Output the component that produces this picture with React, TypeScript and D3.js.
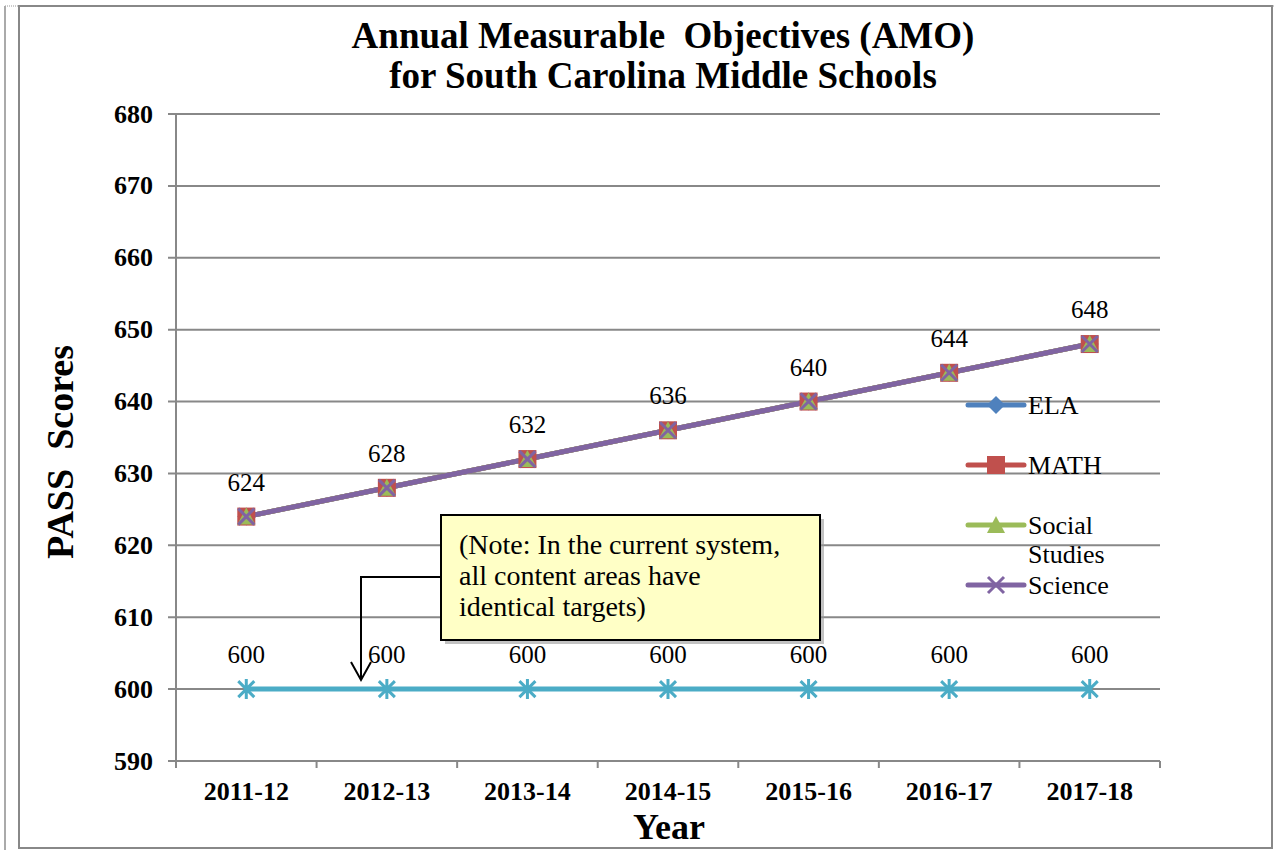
import * as d3 from "d3";
import { useEffect, useRef } from "react";

const years = ["2011-12", "2012-13", "2013-14", "2014-15", "2015-16", "2016-17", "2017-18"];
const elaValues = [624, 628, 632, 636, 640, 644, 648];
const mathValues = [624, 628, 632, 636, 640, 644, 648];
const socialValues = [624, 628, 632, 636, 640, 644, 648];
const scienceValues = [624, 628, 632, 636, 640, 644, 648];
const baseValues = [600, 600, 600, 600, 600, 600, 600];
const yTicks = [590, 600, 610, 620, 630, 640, 650, 660, 670, 680];

const serif = "'Liberation Serif', 'Times New Roman', serif";

export default function App() {
  const svgRef = useRef<SVGSVGElement>(null);

  useEffect(() => {
    const svg = d3.select(svgRef.current);
    svg.selectAll("*").remove();

    const width = 1281;
    const height = 850;
    const left = 176, right = 1160, top = 114, bottom = 761;

    // page frame
    svg.append("rect").attr("x", 0).attr("y", 0).attr("width", width).attr("height", height).attr("fill", "#fff");
    svg.append("line").attr("x1", 5).attr("x2", 1275).attr("y1", 6).attr("y2", 6)
      .attr("stroke", "#999").attr("stroke-dasharray", "1,1");
    svg.append("line").attr("x1", 5).attr("x2", 5).attr("y1", 6).attr("y2", 850).attr("stroke", "#aaa").attr("stroke-width", 2);
    svg.append("rect").attr("x", 19).attr("y", 6).attr("width", 1253).attr("height", 842)
      .attr("fill", "none").attr("stroke", "#888").attr("stroke-width", 2);

    const x = d3.scaleBand().domain(years).range([left, right]);
    const y = d3.scaleLinear().domain([590, 680]).range([bottom, top]);
    const cx = (d: string) => x(d)! + x.bandwidth() / 2;

    // gridlines
    svg.append("g").selectAll("line").data(yTicks).join("line")
      .attr("x1", left - 8).attr("x2", right)
      .attr("y1", d => y(d)).attr("y2", d => y(d))
      .attr("stroke", "#888").attr("stroke-width", 2);

    // y axis line
    svg.append("line").attr("x1", left).attr("x2", left).attr("y1", top).attr("y2", bottom)
      .attr("stroke", "#888").attr("stroke-width", 2);
    // x tick marks
    svg.append("g").selectAll("line").data(d3.range(years.length + 1)).join("line")
      .attr("x1", i => left + i * x.step()).attr("x2", i => left + i * x.step())
      .attr("y1", bottom).attr("y2", bottom + 7)
      .attr("stroke", "#888").attr("stroke-width", 2);

    // y tick labels
    svg.append("g").selectAll("text").data(yTicks).join("text")
      .attr("x", 153).attr("y", d => y(d)).attr("dy", "0.33em")
      .attr("text-anchor", "end").attr("font-family", serif).attr("font-weight", "bold").attr("font-size", 26)
      .text(d => d);
    // x tick labels
    svg.append("g").selectAll("text").data(years).join("text")
      .attr("x", d => cx(d)).attr("y", 800)
      .attr("text-anchor", "middle").attr("font-family", serif).attr("font-weight", "bold").attr("font-size", 26)
      .text(d => d);

    // title
    const title = svg.append("text").attr("x", 663).attr("text-anchor", "middle")
      .attr("font-family", serif).attr("font-weight", "bold").attr("font-size", 37)
      .style("white-space", "pre");
    title.append("tspan").attr("x", 663).attr("y", 48).text("Annual Measurable  Objectives (AMO)");
    title.append("tspan").attr("x", 663).attr("y", 88).text("for South Carolina Middle Schools");

    // axis titles
    svg.append("text").attr("transform", `translate(73,452) rotate(-90)`)
      .attr("text-anchor", "middle").attr("font-family", serif).attr("font-weight", "bold").attr("font-size", 38)
      .style("white-space", "pre").text("PASS  Scores");
    svg.append("text").attr("x", 669).attr("y", 839).attr("text-anchor", "middle")
      .attr("font-family", serif).attr("font-weight", "bold").attr("font-size", 36).text("Year");

    const line = d3.line<number>().x((_, i) => cx(years[i])).y(d => y(d));

    const drawMarker = (g: any, kind: string, color: string, px: number, py: number) => {
      if (kind === "diamond") {
        g.append("path").attr("d", `M${px},${py - 9}L${px + 9},${py}L${px},${py + 9}L${px - 9},${py}Z`).attr("fill", color);
      } else if (kind === "square") {
        g.append("rect").attr("x", px - 9).attr("y", py - 9).attr("width", 18).attr("height", 18).attr("fill", color);
      } else if (kind === "triangle") {
        g.append("path").attr("d", `M${px},${py - 9}L${px + 9},${py + 8}L${px - 9},${py + 8}Z`).attr("fill", color);
      } else if (kind === "x") {
        g.append("path").attr("d", `M${px - 8},${py - 8}L${px + 8},${py + 8}M${px + 8},${py - 8}L${px - 8},${py + 8}`)
          .attr("stroke", color).attr("stroke-width", 3);
      } else if (kind === "star") {
        g.append("path").attr("d", `M${px - 8},${py - 8}L${px + 8},${py + 8}M${px + 8},${py - 8}L${px - 8},${py + 8}M${px},${py - 10}L${px},${py + 10}`)
          .attr("stroke", color).attr("stroke-width", 3);
      }
    };

    const series = [
      { name: "ELA", values: elaValues, color: "#4f81bd", marker: "diamond" },
      { name: "MATH", values: mathValues, color: "#c0504d", marker: "square" },
      { name: "Social Studies", values: socialValues, color: "#9bbb59", marker: "triangle" },
      { name: "Science", values: scienceValues, color: "#8064a2", marker: "x" },
      { name: "", values: baseValues, color: "#4bacc6", marker: "star" },
    ];

    const plot = svg.append("g");
    series.forEach(s => {
      plot.append("path").attr("d", line(s.values)).attr("fill", "none")
        .attr("stroke", s.color).attr("stroke-width", 5);
    });
    series.forEach(s => {
      s.values.forEach((v, i) => drawMarker(plot, s.marker, s.color, cx(years[i]), y(v)));
    });

    // data labels
    [scienceValues, baseValues].forEach(vals => {
      svg.append("g").selectAll("text").data(vals).join("text")
        .attr("x", (_, i) => cx(years[i])).attr("y", d => y(d) - 26)
        .attr("text-anchor", "middle").attr("font-family", serif).attr("font-size", 25)
        .text(d => d);
    });

    // legend
    const legend = svg.append("g");
    series.slice(0, 4).forEach((s, i) => {
      const ly = 405 + i * 60;
      legend.append("line").attr("x1", 968).attr("x2", 1024).attr("y1", ly).attr("y2", ly)
        .attr("stroke", s.color).attr("stroke-width", 5).attr("stroke-linecap", "round");
      drawMarker(legend, s.marker, s.color, 996, ly);
      const lt = legend.append("text").attr("font-family", serif).attr("font-size", 26);
      const parts = s.name === "Social Studies" ? ["Social", "Studies"] : [s.name];
      parts.forEach((p, j) => lt.append("tspan").attr("x", 1028).attr("y", ly + 9 + j * 29).text(p));
    });

    // annotation box with arrow
    svg.append("path").attr("d", "M441,577H361V678").attr("fill", "none").attr("stroke", "#000").attr("stroke-width", 2);
    svg.append("path").attr("d", "M351,662L361,680L371,662").attr("fill", "none").attr("stroke", "#000").attr("stroke-width", 2);
    svg.append("rect").attr("x", 445).attr("y", 519).attr("width", 379).attr("height", 125).attr("fill", "#999").attr("opacity", 0.6);
    svg.append("rect").attr("x", 441).attr("y", 515).attr("width", 379).attr("height", 125)
      .attr("fill", "#ffffc6").attr("stroke", "#000").attr("stroke-width", 2);
    const note = svg.append("text").attr("font-family", serif).attr("font-size", 28);
    ["(Note: In the current system,", "all content areas have", "identical targets)"].forEach((t, i) => {
      note.append("tspan").attr("x", 459).attr("y", 554 + i * 31).text(t);
    });
  }, []);

  return <svg ref={svgRef} width={1281} height={850} style={{ position: "absolute", left: 0, top: 0 }} />;
}
